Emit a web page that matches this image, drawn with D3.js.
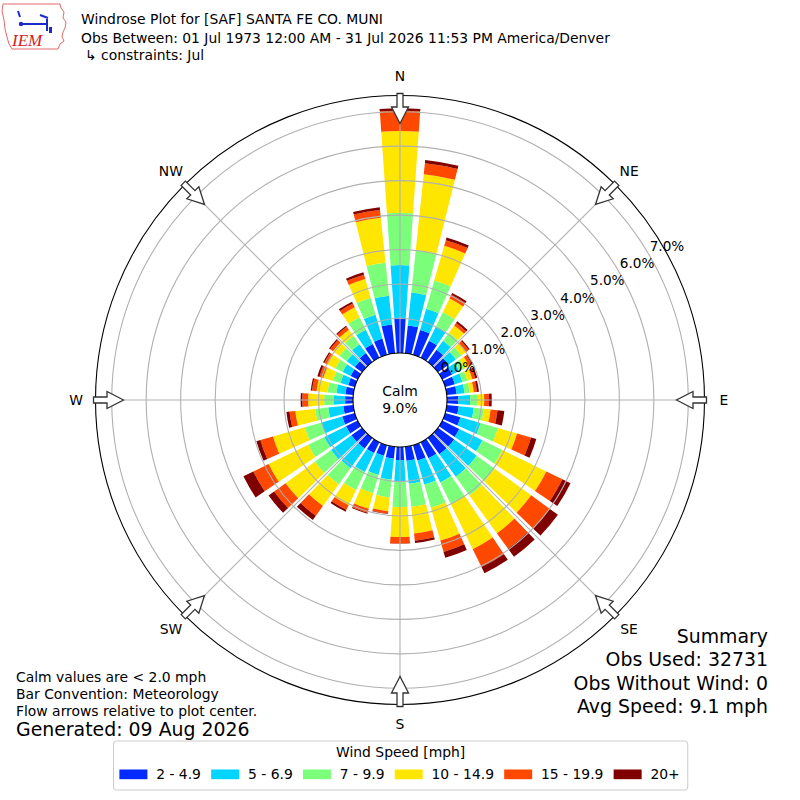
<!DOCTYPE html>
<html>
<head>
<meta charset="utf-8">
<script src="https://cdn.jsdelivr.net/npm/d3@7"></script>
<style>
  html, body { margin: 0; padding: 0; background: #fff; }
  svg { display: block; font-family: "DejaVu Sans", sans-serif; }
</style>
</head>
<body>
<svg id="chart" width="800" height="800"></svg>
<script>
// ---------------- DATA ----------------
const directions = [0,10,20,30,40,50,60,70,80,90,100,110,120,130,140,150,160,170,
                    180,190,200,210,220,230,240,250,260,270,280,290,300,310,320,330,340,350];
const speedBins = ["2 - 4.9", "5 - 6.9", "7 - 9.9", "10 - 14.9", "15 - 19.9", "20+"];
const binColors = ["#002aff", "#00d4ff", "#7bff7b", "#ffe600", "#ff4900", "#800000"];
// percent of observations per direction, one array per speed bin
const s2to5   = [1.02,0.81,0.75,0.55,0.44,0.38,0.32,0.29,0.29,0.33,0.35,0.46,0.55,0.58,0.58,0.52,0.46,0.41,
                 0.38,0.35,0.32,0.35,0.38,0.38,0.38,0.38,0.29,0.23,0.23,0.20,0.23,0.26,0.32,0.44,0.49,0.84];
const s5to7   = [1.53,0.96,0.64,0.46,0.32,0.26,0.23,0.23,0.23,0.34,0.44,0.61,0.75,0.81,0.81,0.78,0.73,0.67,
                 0.63,0.61,0.58,0.61,0.70,0.73,0.70,0.64,0.44,0.34,0.26,0.23,0.26,0.29,0.32,0.46,0.72,0.84];
const s7to10  = [1.52,1.24,0.85,0.46,0.29,0.20,0.17,0.15,0.15,0.23,0.29,0.52,0.64,0.64,0.67,0.70,0.70,0.67,
                 0.73,0.52,0.55,0.58,0.58,0.58,0.52,0.49,0.38,0.27,0.26,0.23,0.23,0.26,0.29,0.41,0.51,0.96];
const s10to15 = [2.37,2.21,1.05,0.44,0.26,0.17,0.15,0.15,0.12,0.18,0.20,0.58,1.42,1.31,1.36,1.45,0.99,0.78,
                 0.87,0.40,0.47,0.49,0.78,1.05,1.28,0.96,0.58,0.46,0.32,0.29,0.26,0.23,0.23,0.32,0.57,1.31];
const s15to20 = [0.59,0.32,0.17,0.12,0.09,0.09,0.09,0.09,0.09,0.14,0.20,0.42,0.52,0.67,0.55,0.58,0.34,0.21,
                 0.19,0.07,0.12,0.15,0.35,0.41,0.49,0.38,0.17,0.17,0.13,0.12,0.10,0.10,0.10,0.12,0.13,0.23];
const s20plus = [0.07,0.10,0.08,0.06,0.06,0.04,0.03,0.06,0.06,0.08,0.20,0.16,0.26,0.29,0.29,0.20,0.18,0.07,
                 0.01,0.01,0.03,0.06,0.15,0.20,0.32,0.12,0.09,0.05,0.04,0.06,0.04,0.04,0.04,0.06,0.07,0.08];
const radialTicks = [0,1,2,3,4,5,6,7];
const compassLabels = ["N","NE","E","SE","S","SW","W","NW"];
const compassAngles = [0,45,90,135,180,225,270,315];
const calmPct = 9.0;
const titleLines = ["Windrose Plot for [SAF] SANTA FE CO. MUNI",
                    "Obs Between: 01 Jul 1973 12:00 AM - 31 Jul 2026 11:53 PM America/Denver",
                    "\u21b3 constraints: Jul"];
const summaryLines = ["Summary", "Obs Used: 32731", "Obs Without Wind: 0", "Avg Speed: 9.1 mph"];
const noteLines = ["Calm values are < 2.0 mph", "Bar Convention: Meteorology", "Flow arrows relative to plot center."];
const generatedText = "Generated: 09 Aug 2026";
const legendTitle = "Wind Speed [mph]";

// ---------------- DRAW ----------------
const series = [s2to5, s5to7, s7to10, s10to15, s15to20, s20plus];
const svg = d3.select("#chart");
const cx = 400, cy = 400, R = 304.5;
const rScale = d3.scaleLinear().domain([0, 7.47]).range([47, R]);
const rad = d => d * Math.PI / 180;
const g = svg.append("g").attr("transform", `translate(${cx},${cy})`);

// bars (stacked)
const rows = directions.map((d, i) => {
  const o = { dir: d };
  speedBins.forEach((b, k) => o[b] = series[k][i]);
  return o;
});
const stacked = d3.stack().keys(speedBins)(rows);
const arcGen = d3.arc();
stacked.forEach((layer, k) => {
  g.append("g").selectAll("path").data(layer).join("path")
    .attr("d", seg => arcGen({
      innerRadius: rScale(seg[0]), outerRadius: rScale(seg[1]),
      startAngle: rad(seg.data.dir - 4), endAngle: rad(seg.data.dir + 4)
    }))
    .attr("fill", binColors[k]);
});

// grid rings
g.append("g").selectAll("circle").data(radialTicks.filter(t => t > 0)).join("circle")
  .attr("r", t => rScale(t)).attr("fill", "none")
  .attr("stroke", "#b0b0b0").attr("stroke-width", 1.1);
// spokes
g.append("g").selectAll("line").data(compassAngles).join("line")
  .attr("x1", a => rScale(0) * Math.sin(rad(a))).attr("y1", a => -rScale(0) * Math.cos(rad(a)))
  .attr("x2", a => R * Math.sin(rad(a))).attr("y2", a => -R * Math.cos(rad(a)))
  .attr("stroke", "#b0b0b0").attr("stroke-width", 1.1);
// outer circle
g.append("circle").attr("r", R).attr("fill", "none").attr("stroke", "#000").attr("stroke-width", 1.1);
// calm circle
g.append("circle").attr("r", rScale(0)).attr("fill", "#fff").attr("stroke", "#000").attr("stroke-width", 1.1);
g.append("text").attr("x", 0).attr("y", -9).attr("text-anchor", "middle").attr("dominant-baseline", "central")
  .attr("font-size", 13.9).text("Calm");
g.append("text").attr("x", 0).attr("y", 8).attr("text-anchor", "middle").attr("dominant-baseline", "central")
  .attr("font-size", 13.9).text(d3.format(".1f")(calmPct) + "%");

// radial tick labels
const labAng = rad(60);
g.append("g").selectAll("text").data(radialTicks).join("text")
  .attr("x", t => (rScale(t) + 20) * Math.sin(labAng))
  .attr("y", t => -(rScale(t) + 20) * Math.cos(labAng))
  .attr("text-anchor", "middle").attr("dominant-baseline", "central")
  .attr("font-size", 13.6).text(t => d3.format(".1f")(t) + "%");

// flow arrows
const arrowPath = "M0,-276.5 L8.5,-293 L3,-293 L3,-306.5 L-3,-306.5 L-3,-293 L-8.5,-293 Z";
g.append("g").selectAll("path").data(compassAngles).join("path")
  .attr("d", arrowPath).attr("transform", a => `rotate(${a})`)
  .attr("fill", "#fff").attr("stroke", "#333").attr("stroke-width", 1.3).attr("stroke-linejoin", "miter");

// compass labels
g.append("g").selectAll("text").data(compassAngles).join("text")
  .attr("x", a => 324 * Math.sin(rad(a))).attr("y", a => -324 * Math.cos(rad(a)))
  .attr("text-anchor", "middle").attr("dominant-baseline", "central")
  .attr("font-size", 13.9).text((a, i) => compassLabels[i]);

// title
svg.append("g").selectAll("text").data(titleLines).join("text")
  .attr("x", (d, i) => i === 2 ? 85 : 81).attr("y", (d, i) => [24, 43, 60][i])
  .attr("font-size", 13.9).text(d => d);

// logo
const logo = svg.append("g");
logo.append("path")
  .attr("d", "M3,4 L60,4 L61,8 L64,12 L63,18 L66,22 L65,28 L63,32 L62,37 L64,41 L60,44 L58,49 L12,49 L9,44 L7,37 L5,29 L4,20 L2,11 Z")
  .attr("fill", "none").attr("stroke", "#e26a6a").attr("stroke-width", 1);
logo.append("path").attr("d", "M21,24 L47,24 M47,19 L47,31 M40,15 L48,18 M18,11 L20,17")
  .attr("stroke", "#1a2cc8").attr("stroke-width", 2).attr("fill", "none");
logo.append("circle").attr("cx", 21).attr("cy", 24).attr("r", 2.2).attr("fill", "#1a2cc8");
logo.append("path").attr("d", "M49,27 L52,27 L52,33 L49,33 Z").attr("fill", "#1a2cc8");
logo.append("text").attr("x", 12).attr("y", 46).attr("font-family", "Liberation Serif, serif")
  .attr("font-style", "italic").attr("font-size", 17).attr("fill", "#d42020").text("IEM");

// summary (right)
svg.append("g").selectAll("text").data(summaryLines).join("text")
  .attr("x", 768).attr("y", (d, i) => 643 + i * 23.3)
  .attr("text-anchor", "end").attr("font-size", 18.9).text(d => d);

// notes (left)
svg.append("g").selectAll("text").data(noteLines).join("text")
  .attr("x", 16).attr("y", (d, i) => 682 + i * 17)
  .attr("font-size", 13.9).text(d => d);
svg.append("text").attr("x", 16).attr("y", 736).attr("font-size", 18.9).text(generatedText);

// legend
const leg = svg.append("g");
const legBox = leg.append("rect").attr("y", 741).attr("height", 49).attr("rx", 3)
  .attr("fill", "#fff").attr("stroke", "#cccccc").attr("stroke-width", 1);
let xPos = 119.4;
const colGap = 10.2, txtPad = 36.8;
speedBins.forEach((b, k) => {
  leg.append("rect").attr("x", xPos).attr("y", 769.5).attr("width", 28).attr("height", 9.7).attr("fill", binColors[k]);
  const t = leg.append("text").attr("x", xPos + txtPad).attr("y", 779).attr("font-size", 13.9).text(b);
  xPos = xPos + txtPad + t.node().getComputedTextLength() + colGap;
});
const legRight = xPos - colGap + 8;
legBox.attr("x", 113.5).attr("width", legRight - 113.5);
leg.append("text").attr("x", (113.5 + legRight) / 2).attr("y", 757).attr("text-anchor", "middle")
  .attr("font-size", 13.9).text(legendTitle);
</script>
</body>
</html>
